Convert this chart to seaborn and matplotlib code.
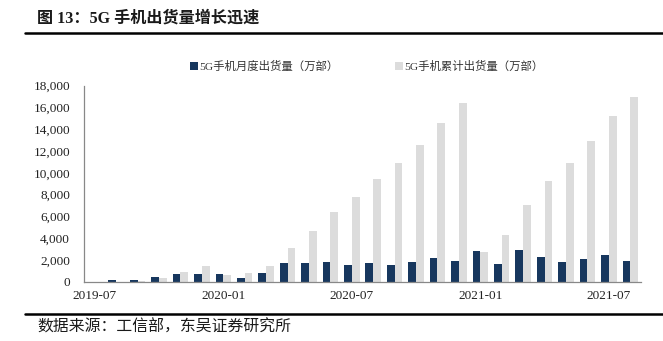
import matplotlib
matplotlib.use("Agg")
import matplotlib.pyplot as plt
import matplotlib.ticker as mticker
from matplotlib.patches import Patch
import seaborn as sns
import pandas as pd

months = ["2019-07", "2019-08", "2019-09", "2019-10", "2019-11", "2019-12",
          "2020-01", "2020-02", "2020-03", "2020-04", "2020-05", "2020-06",
          "2020-07", "2020-08", "2020-09", "2020-10", "2020-11", "2020-12",
          "2021-01", "2021-02", "2021-03", "2021-04", "2021-05", "2021-06",
          "2021-07", "2021-08"]
monthly = [10, 210, 210, 420, 690, 720,
           750, 390, 780, 1770, 1710, 1870,
           1560, 1770, 1560, 1830, 2170, 1960,
           2870, 1680, 2900, 2290, 1830, 2140,
           2450, 1930]
cumulative = [10, 30, 100, 390, 900, 1460,
              630, 870, 1440, 3090, 4680, 6420,
              7830, 9480, 10890, 12510, 14530, 16390,
              2780, 4340, 7090, 9240, 10890, 12910,
              15200, 16910]
series_names = ["5G手机月度出货量（万部）", "5G手机累计出货量（万部）"]
label_months = ["2019-07", "2020-01", "2020-07", "2021-01", "2021-07"]
colors = ["#17375e", "#dcdcdc"]

df = pd.DataFrame({
    "month": months * 2,
    "value": monthly + cumulative,
    "series": [series_names[0]] * len(months) + [series_names[1]] * len(months),
})

sns.set_style("white")
plt.rcParams['font.family'] = ['Liberation Serif', 'Noto Sans CJK SC']
MIX = ['Liberation Serif', 'Noto Sans CJK SC']

fig = plt.figure(figsize=(6.63, 3.41), dpi=100)
ax = fig.add_axes([84 / 663, 1 - 282 / 341, (641 - 84) / 663, (282 - 85.5) / 341])

sns.barplot(data=df, x="month", y="value", hue="series", order=months,
            hue_order=series_names, palette=colors, width=0.72,
            saturation=1, legend=False, ax=ax, linewidth=0)

ax.set_xlim(-0.5, len(months) - 0.5)
ax.set_ylim(0, 18000)
ax.yaxis.set_major_locator(mticker.MultipleLocator(2000))
ax.yaxis.set_major_formatter(mticker.FuncFormatter(lambda v, p: f"{int(v):,}"))

idx = [months.index(m) for m in label_months]
ax.set_xticks(idx)
ax.set_xticklabels(label_months)
ax.set_xticks([i - 0.5 for i in idx[1:]], minor=True)
ax.tick_params(axis="x", which="major", length=0, pad=6, labelsize=9.5, labelcolor="#222222")
ax.tick_params(axis="x", which="minor", direction="in", length=4, width=0.8, color="#888888")
ax.tick_params(axis="y", direction="in", length=3, width=0.8, color="#888888",
               labelsize=9.5, labelcolor="#222222", pad=10)
for lab in ax.get_xticklabels() + ax.get_yticklabels():
    lab.set_family(MIX)

ax.set_xlabel("")
ax.set_ylabel("")
for s in ["top", "right"]:
    ax.spines[s].set_visible(False)
for s in ["left", "bottom"]:
    ax.spines[s].set_color("#888888")
    ax.spines[s].set_linewidth(0.9)

handles = [Patch(facecolor=c, edgecolor="none") for c in colors]
leg = fig.legend(handles, series_names, loc="center", bbox_to_anchor=(367 / 663, 1 - 66.5 / 341),
                 ncol=2, frameon=False, handlelength=0.7, handleheight=0.7,
                 handletextpad=0.1, columnspacing=5.0, prop={"family": MIX, "size": 8.2})
for t in leg.get_texts():
    t.set_color("#333333")

fig.text(37 / 663, 1 - 19 / 341, "图 13：5G 手机出货量增长迅速", family=MIX,
         fontsize=11.6, fontweight="bold", color="#1a1a1a", va="center", ha="left")
fig.add_artist(plt.Line2D([25 / 663, 1], [1 - 33 / 341] * 2, color="black", linewidth=1.8))
fig.add_artist(plt.Line2D([25 / 663, 1], [1 - 314 / 341] * 2, color="black", linewidth=1.8))
fig.text(37 / 663, 1 - 328 / 341, "数据来源：工信部，东吴证券研究所", family=MIX,
         fontsize=11.4, color="#1a1a1a", va="center", ha="left")

fig.savefig("out.png", dpi=100, facecolor="white")
